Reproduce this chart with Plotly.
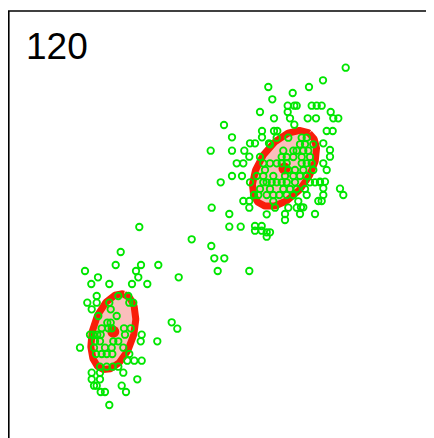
import numpy as np
import plotly.graph_objects as go

# Points (x to the right, y downwards, pixel-like units)
upper_x = [345.7, 323.0, 309.0, 268.3, 292.7, 272.3,
           287.7, 294.3, 296.7, 311.7, 316.7, 321.7,
           260.0, 287.7, 330.7, 274.0, 290.0, 307.7, 316.0, 333.3, 338.3,
           294.3, 224.0, 262.0, 262.0, 274.0, 277.3, 326.7, 332.7, 232.0,
           250.0, 255.0, 269.0, 323.3,
           210.7, 232.0, 244.3, 330.0, 330.0, 236.7, 243.3, 249.3, 323.3, 326.7,
           232.0, 242.0, 220.7, 320.0, 325.0, 340.0, 343.3, 323.3, 323.3,
           243.3, 249.3, 318.3, 321.7, 249.3, 211.7, 301.0, 303.3,
           229.3, 266.7, 285.0, 300.0, 315.0, 285.0,
           229.3, 240.7, 255.0, 261.7, 255.0, 261.7, 266.7, 270.0, 266.7,
           276.7, 288.3, 301.7, 306.7,
           270.0, 300.0, 305.0, 313.3,
           283.3, 293.3, 296.7, 303.3, 308.3,
           260.0, 281.7, 286.7, 293.3, 301.7, 310.0,
           263.3, 270.0, 276.7, 281.7, 286.7, 301.7, 306.7, 311.7,
           265.0, 288.3, 295.0, 303.3, 313.3,
           256.7, 263.3, 273.3, 285.0, 293.3, 300.0, 306.7,
           250.0, 263.3, 266.7, 271.7, 276.7, 281.7, 286.7, 295.0, 310.0, 315.0, 320.0,
           260.0, 270.0, 283.3, 290.0, 296.7, 305.0,
           254.0, 258.3, 266.7, 273.3, 279.3, 286.7, 293.3, 306.7,
           273.3, 298.3,
           275.0, 288.3, 296.7]
upper_y = [67.7, 80.3, 87.0, 87.0, 93.0, 99.3,
           105.7, 105.7, 105.7, 105.7, 105.7, 105.7,
           112.0, 112.0, 112.0, 118.3, 118.3, 118.3, 118.3, 118.3, 118.3,
           124.7, 125.0, 131.0, 137.3, 131.0, 131.0, 131.0, 131.0, 137.3,
           143.3, 143.3, 143.3, 143.3,
           150.7, 150.7, 150.7, 150.0, 156.7, 163.3, 163.3, 156.7, 163.3, 170.0,
           176.0, 176.0, 182.3, 181.7, 181.7, 188.7, 195.0, 188.3, 195.0,
           201.0, 201.0, 201.0, 201.0, 207.7, 207.7, 207.3, 207.3,
           214.0, 214.3, 214.0, 214.0, 214.0, 220.0,
           226.7, 226.7, 226.0, 226.0, 230.7, 230.7, 232.3, 232.3, 236.7,
           137.7, 137.7, 137.7, 137.7,
           144.3, 144.3, 144.3, 144.3,
           150.7, 150.7, 150.7, 150.7, 150.7,
           157.0, 157.0, 157.0, 157.0, 157.0, 157.0,
           163.3, 163.3, 163.3, 163.3, 163.3, 163.3, 163.3, 163.3,
           170.0, 170.0, 170.0, 170.0, 170.0,
           176.0, 176.0, 176.0, 176.0, 176.0, 176.0, 176.0,
           182.3, 182.3, 182.3, 182.3, 182.3, 182.3, 182.3, 182.3, 182.3, 182.3, 182.3,
           189.0, 189.0, 189.0, 189.0, 189.0, 189.0,
           195.0, 195.0, 195.0, 195.0, 195.0, 195.0, 195.0, 195.0,
           201.3, 201.3,
           207.7, 207.7, 207.7]

bridge_x = [211.3, 214.3, 224.3, 217.7, 249.3, 191.7, 178.7, 171.7, 177.3]
bridge_y = [246.0, 258.3, 258.3, 271.0, 271.0, 239.3, 277.3, 322.3, 328.7]

lower_x = [139.3, 120.7, 115.7, 141.0, 158.3, 85.0, 136.0, 98.0, 138.3, 91.3, 109.3, 132.0, 147.3,
           96.7, 118.3, 128.3,
           87.3, 96.7, 109.3, 129.3, 133.3,
           91.7, 110.7, 98.3, 116.7, 107.3, 110.7,
           101.7, 108.3, 111.7, 124.0, 130.7,
           90.0, 93.3, 97.3, 100.7, 125.0, 141.7,
           95.0, 100.0, 113.3, 118.3, 140.7, 157.3,
           80.0, 94.0, 105.0, 111.7, 123.3,
           96.0, 101.7, 106.7, 112.3, 129.3,
           127.3, 134.3, 141.7,
           100.0, 106.7, 112.7, 118.3,
           91.7, 100.0, 123.3,
           91.7, 100.0, 137.3,
           94.0, 96.7, 121.7,
           100.7, 105.0, 126.0,
           109.3]
lower_y = [227.0, 252.0, 265.0, 265.0, 265.0, 271.0, 271.0, 277.3, 277.3, 284.0, 284.0, 284.0, 284.0,
           296.0, 296.0, 296.0,
           302.7, 302.7, 302.7, 302.7, 302.7,
           309.3, 309.3, 316.0, 316.0, 322.7, 322.7,
           328.3, 328.3, 328.3, 328.3, 328.3,
           334.7, 334.7, 334.7, 334.7, 334.7, 334.7,
           341.3, 341.3, 341.3, 341.3, 341.3, 341.3,
           347.7, 347.7, 347.7, 347.7, 347.7,
           354.0, 354.0, 354.0, 354.0, 354.0,
           360.7, 360.7, 360.7,
           366.7, 366.7, 366.7, 366.7,
           372.7, 372.7, 372.7,
           379.3, 379.3, 379.3,
           385.7, 385.7, 385.7,
           392.0, 392.0, 392.0,
           405.0]

# Cluster ellipses: centre, semi-axes, tilt (degrees, counter-clockwise on screen)
ell_cx = [284.5, 113.3]
ell_cy = [168.5, 331.7]
ell_a = [43.0, 39.0]
ell_b = [25.0, 20.5]
ell_angle = [55.0, 74.0]

label_text = "120"

RED = "rgb(248,30,10)"
PINK = "rgb(250,190,188)"
GREEN = "rgb(0,230,0)"

fig = go.Figure()

t = np.linspace(0, 2 * np.pi, 200)
for cx, cy, a, b, ang in zip(ell_cx, ell_cy, ell_a, ell_b, ell_angle):
    th = np.deg2rad(ang)
    ux, uy = np.cos(th), -np.sin(th)
    vx, vy = np.sin(th), np.cos(th)
    ex = cx + a * np.cos(t) * ux + b * np.sin(t) * vx
    ey = cy + a * np.cos(t) * uy + b * np.sin(t) * vy
    fig.add_trace(go.Scatter(x=ex, y=ey, mode="lines", fill="toself",
                             fillcolor=PINK, line=dict(color=RED, width=7),
                             hoverinfo="skip", showlegend=False))

fig.add_trace(go.Scatter(x=ell_cx, y=ell_cy, mode="markers",
                         marker=dict(color=RED, size=12, line=dict(width=0)),
                         showlegend=False))

all_x = upper_x + bridge_x + lower_x
all_y = upper_y + bridge_y + lower_y
fig.add_trace(go.Scatter(x=all_x, y=all_y, mode="markers",
                         marker=dict(symbol="circle-open", size=6.5, color=GREEN,
                                     line=dict(width=1.8, color=GREEN)),
                         showlegend=False))

fig.add_annotation(x=24, y=46, xref="x", yref="y", text=label_text,
                   showarrow=False, xanchor="left", yanchor="middle",
                   font=dict(family="Liberation Sans, Arial, sans-serif", size=37, color="black"))

# The page places the figure 8px in from the top-left corner
fig.update_layout(
    width=426, height=430,
    margin=dict(l=0, r=0, t=3, b=0),
    paper_bgcolor="white", plot_bgcolor="white",
    xaxis=dict(range=[8, 434], visible=False, fixedrange=True),
    yaxis=dict(range=[438, 11], visible=False, fixedrange=True),
    shapes=[
        dict(type="line", xref="paper", yref="paper", x0=0.8 / 426, x1=0.8 / 426, y0=0, y1=1,
             line=dict(color="black", width=1.6)),
        dict(type="line", xref="paper", yref="paper", x0=0, x1=1, y0=1, y1=1,
             line=dict(color="black", width=1.6)),
    ],
)

fig.write_html("out.html")
